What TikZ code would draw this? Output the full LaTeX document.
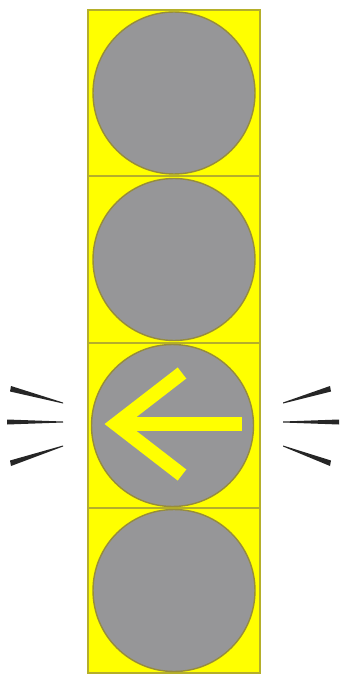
\documentclass[tikz,border=0pt]{standalone}
\usepackage{xcolor}
\usetikzlibrary{positioning}
\definecolor{sigyellow}{RGB}{255,255,0}
\definecolor{lampgray}{RGB}{150,150,152}
\definecolor{rimolive}{RGB}{150,140,60}

\begin{document}
\begin{tikzpicture}[x=0.02cm,y=-0.02cm,
  housing/.style={draw=rimolive!70!sigyellow,line width=0.6pt,fill=sigyellow},
  lamp/.style={circle,draw=rimolive,line width=0.8pt,fill=lampgray,
               minimum size=3.24cm,inner sep=0pt},
  arrowbar/.style={sigyellow,line width=0.28cm,line join=miter,line cap=butt},
  flash/.style={fill=black!85}
]
\useasboundingbox (0,0) rectangle (341,675);
% signal housing, four sections
\draw[housing] (88,10) rectangle (260,176);
\draw[housing] (88,176) rectangle (260,343);
\draw[housing] (88,343) rectangle (260,508);
\draw[housing] (88,508) rectangle (260,673);
% lamps
\node[lamp] (top) at (174,93) {};
\node[lamp] (upper) at (174,259.5) {};
\node[lamp] (arrowlamp) at (172.5,425.5) {};
\node[lamp] (bottom) at (174,590.5) {};
% left-turn arrow on the lit lamp
\coordinate (tip) at (116,424);
\draw[arrowbar] (182,373) -- (tip) -- (182,475);
\draw[arrowbar] (tip) -- (242,424);
% flash marks, left
\fill[flash] (11,386) -- (63,402.5) -- (63,403.5) -- (10,391.5) -- cycle;
\fill[flash] (7,419.5) -- (63,421.5) -- (63,422.5) -- (7,424.5) -- cycle;
\fill[flash] (10,460.5) -- (63,445.5) -- (63,446.5) -- (11,466) -- cycle;
% flash marks, right
\fill[flash] (330,386) -- (283,402.5) -- (283,403.5) -- (331,391.5) -- cycle;
\fill[flash] (339,419.5) -- (283,421.5) -- (283,422.5) -- (339,424.5) -- cycle;
\fill[flash] (331,460.5) -- (283,445.5) -- (283,446.5) -- (330,466) -- cycle;
\end{tikzpicture}
\end{document}
